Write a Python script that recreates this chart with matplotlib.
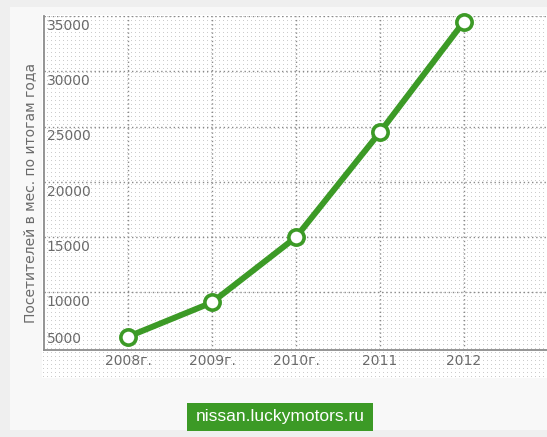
import numpy as np
import matplotlib
matplotlib.use("Agg")
import matplotlib.pyplot as plt
from matplotlib.patches import Rectangle

# DATA
years    = ["2008г.", "2009г.", "2010г.", "2011", "2012"]
visitors = [6000, 9100, 15000, 24500, 34500]
yticks   = [5000, 10000, 15000, 20000, 25000, 30000, 35000]

YLABEL = "Посетителей в мес. по итогам года"
BADGE  = "nissan.luckymotors.ru"

GREEN  = "#3c9a26"
GRID   = "#8a8a8a"
TEXT   = "#6a6a6a"

W, H = 547, 437
fig = plt.figure(figsize=(W / 100, H / 100), dpi=100)
fig.patch.set_facecolor("#efefef")

def px_box(x0, y0, x1, y1):
    # pixel box (top-left origin) -> figure fraction [l, b, w, h]
    return [x0 / W, 1 - y1 / H, (x1 - x0) / W, (y1 - y0) / H]

# light panel behind everything
fig.patches.append(Rectangle((10 / W, 1 - 430 / H), (W - 10) / W, 423 / H,
                             transform=fig.transFigure, facecolor="#f8f8f8",
                             edgecolor="none", zorder=-10))

# dotted texture area
bg = fig.add_axes(px_box(42, 15, 547, 378))
tw, th = 505, 363
tex = np.ones((th, tw))
tex[1::4, 1::4] = 0.80
bg.imshow(tex, cmap="gray", vmin=0, vmax=1, interpolation="nearest", aspect="auto")
bg.axis("off")

ax = fig.add_axes(px_box(44, 16, 548, 350))
ax.patch.set_alpha(0)
x = np.arange(len(years))
ax.set_xlim(-1, len(years))
ax.set_ylim(4800, 35000)

# grid
for v in yticks[1:]:
    ax.axhline(v, color=GRID, lw=1, ls=(0, (1, 2)), zorder=1)
for xi in x:
    ax.axvline(xi, color=GRID, lw=1, ls=(0, (1, 2)), zorder=1)

ax.plot(x, visitors, color=GREEN, lw=4.3, zorder=3, solid_capstyle="round",
        marker="o", ms=11, mfc="white", mec=GREEN, mew=2.6, clip_on=False)

for s in ["top", "right"]:
    ax.spines[s].set_visible(False)
for s in ["left", "bottom"]:
    ax.spines[s].set_color("#8c8c8c")
    ax.spines[s].set_linewidth(1.3)

ax.set_yticks([])
ax.set_xticks(x)
ax.set_xticklabels(years, fontsize=10, color=TEXT)
ax.tick_params(axis="x", length=0, pad=3)

# y tick labels drawn inside the plot
for v in yticks:
    if v == yticks[0]:
        ax.annotate(str(v), (0, v), xycoords=("axes fraction", "data"),
                    xytext=(2, 1.5), textcoords="offset points",
                    ha="left", va="bottom", fontsize=10, color=TEXT)
    else:
        ax.annotate(str(v), (0, v), xycoords=("axes fraction", "data"),
                    xytext=(2, -2), textcoords="offset points",
                    ha="left", va="top", fontsize=10, color=TEXT)

fig.text(30 / W, 1 - 193 / H, YLABEL, rotation=90, ha="center", va="center",
         fontsize=10, color=TEXT)

# badge
fig.patches.append(Rectangle((187 / W, 1 - 431 / H), 186 / W, 28 / H,
                             transform=fig.transFigure, facecolor=GREEN,
                             edgecolor="none", zorder=5))
fig.text(280 / W, 1 - 417 / H, BADGE, ha="center", va="center", color="white",
         fontsize=12.5, family="Liberation Sans", zorder=6)

fig.savefig("out.png", dpi=100)
